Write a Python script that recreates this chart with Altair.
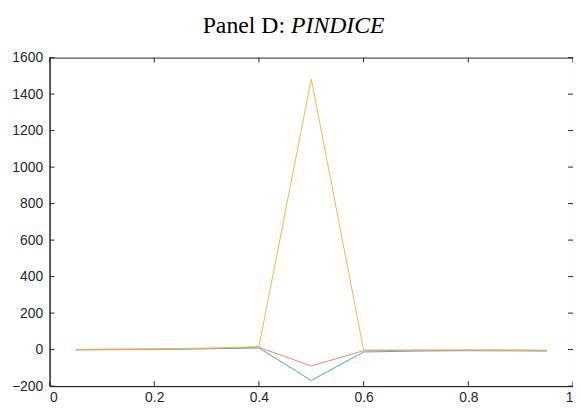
import altair as alt
import pandas as pd

# ---- data ----
x_vals = [0.05, 0.1, 0.2, 0.3, 0.4, 0.5, 0.6, 0.7, 0.8, 0.9, 0.95]
series_names = ["Series 1", "Series 2", "Series 3"]
blue_vals = [-2, -1, 1, 4, 9, -169, -13, -8, -6, -7, -8]
orange_vals = [0, 1, 3, 6, 13, -90, -6, -4, -3, -4, -5]
yellow_vals = [1, 2, 4, 8, 16, 1483, -2, -2, -1, -2, -3]
series_colors = ["#4FA2DA", "#E68C6C", "#F0BA45"]
x_ticks = [0, 0.2, 0.4, 0.6, 0.8, 1.0]
y_ticks = [-200, 0, 200, 400, 600, 800, 1000, 1200, 1400, 1600]
title_plain = "Panel D:"
title_italic = "PINDICE"

W, H = 529, 332
AX = "#262626"

rows = []
for name, vals in zip(series_names, [blue_vals, orange_vals, yellow_vals]):
    for xv, yv in zip(x_vals, vals):
        rows.append({"x": xv, "y": yv, "series": name})
df = pd.DataFrame(rows)

xscale = alt.Scale(domain=[0, 1], nice=False, zero=False)
yscale = alt.Scale(domain=[-200, 1600], nice=False, zero=False)
xaxis = alt.Axis(values=x_ticks, format="~g", title=None, labelPadding=5)
yaxis = alt.Axis(values=y_ticks, format="d", title=None, labelPadding=7)

lines = alt.Chart(df).mark_line(strokeWidth=1).encode(
    x=alt.X("x:Q", scale=xscale, axis=xaxis),
    y=alt.Y("y:Q", scale=yscale, axis=yaxis),
    color=alt.Color("series:N", scale=alt.Scale(domain=series_names, range=series_colors),
                    legend=None),
    order=alt.Order("x:Q"),
)

ydf = pd.DataFrame({"y": y_ticks})
xdf = pd.DataFrame({"x": x_ticks})

ytick_left = alt.Chart(ydf).mark_rule(color=AX, strokeWidth=1).encode(
    y=alt.Y("y:Q", scale=yscale, axis=yaxis), x=alt.value(0), x2=alt.value(5))
ytick_right = alt.Chart(ydf).mark_rule(color=AX, strokeWidth=1).encode(
    y=alt.Y("y:Q", scale=yscale, axis=yaxis), x=alt.value(W - 5), x2=alt.value(W))
xtick_bottom = alt.Chart(xdf).mark_rule(color=AX, strokeWidth=1).encode(
    x=alt.X("x:Q", scale=xscale, axis=xaxis), y=alt.value(H - 5), y2=alt.value(H))
xtick_top = alt.Chart(xdf).mark_rule(color=AX, strokeWidth=1).encode(
    x=alt.X("x:Q", scale=xscale, axis=xaxis), y=alt.value(0), y2=alt.value(5))

t1 = alt.Chart(pd.DataFrame({"t": [title_plain]})).mark_text(
    align="right", baseline="alphabetic", font="Liberation Serif", fontSize=24,
    color="#000000").encode(text="t:N", x=alt.value(238), y=alt.value(-25))
t2 = alt.Chart(pd.DataFrame({"t": [title_italic]})).mark_text(
    align="left", baseline="alphabetic", font="Liberation Serif", fontSize=24,
    fontStyle="italic", color="#000000").encode(text="t:N", x=alt.value(244), y=alt.value(-25))

chart = alt.layer(
    lines, xtick_bottom, xtick_top, ytick_left, ytick_right, t1, t2
).properties(
    width=W, height=H,
    autosize=alt.AutoSizeParams(type="none"),
    padding={"left": 42, "top": 48, "right": 0, "bottom": 20},
).configure_view(
    stroke=AX, strokeWidth=1
).configure_axis(
    domainColor=AX, domainWidth=1, ticks=False, grid=False,
    labelColor=AX, labelFont="Liberation Sans", labelFontSize=14,
)

chart.save("out.html", embed_options={"renderer": "svg", "actions": False})
